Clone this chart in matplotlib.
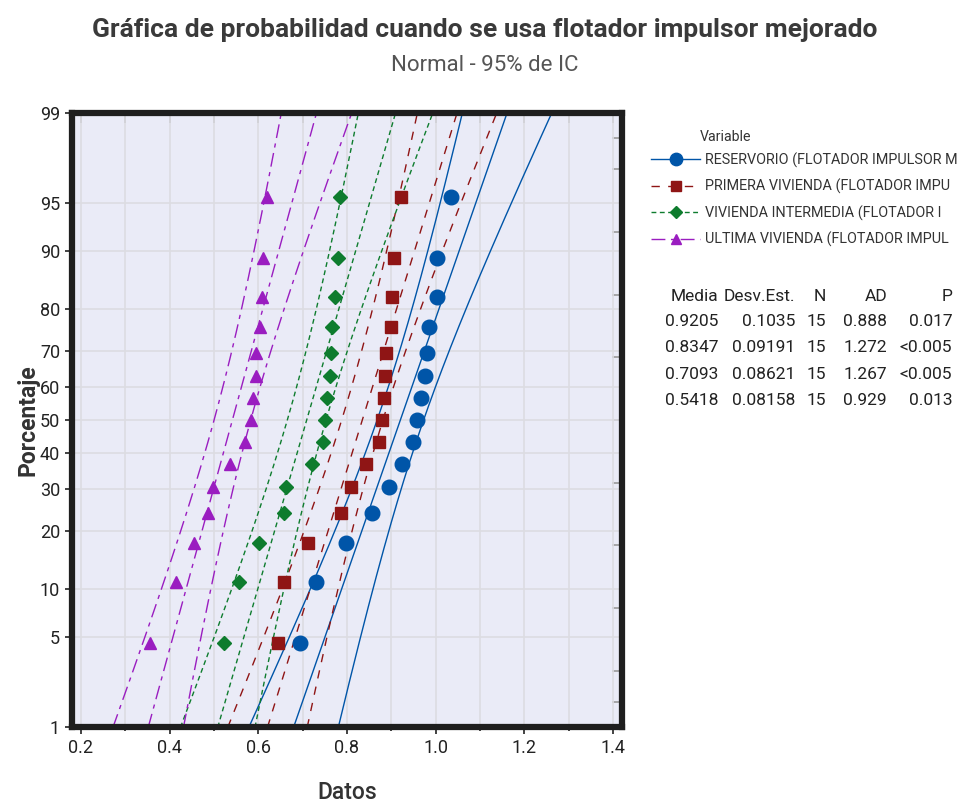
import numpy as np
import matplotlib
matplotlib.use("Agg")
import matplotlib.pyplot as plt
from statistics import NormalDist

plt.rcParams['font.family'] = ['Roboto', 'DejaVu Sans']

# datos (15 valores ordenados por variable)
reservorio = [0.694, 0.731, 0.799, 0.857, 0.895, 0.925, 0.949, 0.959, 0.966,
              0.975, 0.981, 0.985, 1.004, 1.004, 1.034]
primera = [0.645, 0.658, 0.713, 0.786, 0.809, 0.844, 0.872, 0.879, 0.883,
           0.885, 0.889, 0.899, 0.902, 0.906, 0.921]
intermedia = [0.523, 0.557, 0.602, 0.659, 0.662, 0.722, 0.746, 0.750, 0.754,
              0.762, 0.764, 0.767, 0.773, 0.780, 0.784]
ultima = [0.355, 0.415, 0.456, 0.486, 0.497, 0.536, 0.570, 0.584, 0.588,
          0.594, 0.596, 0.604, 0.608, 0.611, 0.620]

etiquetas = ["RESERVORIO (FLOTADOR IMPULSOR M", "PRIMERA VIVIENDA (FLOTADOR IMPU",
             "VIVIENDA INTERMEDIA (FLOTADOR I", "ULTIMA VIVIENDA (FLOTADOR IMPUL"]
media = ["0.9205", "0.8347", "0.7093", "0.5418"]
desv = ["0.1035", "0.09191", "0.08621", "0.08158"]
n_obs = ["15", "15", "15", "15"]
ad = ["0.888", "1.272", "1.267", "0.929"]
p_val = ["0.017", "<0.005", "<0.005", "0.013"]

y_ticks = [1, 5, 10, 20, 30, 40, 50, 60, 70, 80, 90, 95, 99]

colores = ['#0055A8', '#8F1515', '#0E7C2E', '#9A1DC0']
marcadores = ['o', 's', 'D', '^']
tam = [10.5, 8.5, 7.5, 9]
estilos = ['-', (0, (6, 6)), (0, (3.5, 2.5)), (0, (10, 4, 3, 4))]

nd = NormalDist()
_ppf = np.vectorize(nd.inv_cdf, otypes=[float])
_cdf = np.vectorize(nd.cdf, otypes=[float])


def fwd(p):
    p = np.clip(np.asarray(p, dtype=float) / 100.0, 1e-9, 1 - 1e-9)
    return _ppf(p)


def inv(z):
    return _cdf(np.asarray(z, dtype=float)) * 100.0


fig = plt.figure(figsize=(9.59, 8.05), dpi=100)
ax = fig.add_axes([0.075, 0.0965, 0.5735, 0.7635])
ax.set_facecolor('#EAEBF7')
ax.set_yscale('function', functions=(fwd, inv))

series = [reservorio, primera, intermedia, ultima]
z = np.linspace(nd.inv_cdf(0.01), nd.inv_cdf(0.99), 200)
pct = _cdf(z) * 100
for i, datos in enumerate(series):
    x = np.sort(np.array(datos))
    n = len(x)
    rangos = (np.arange(1, n + 1) - 0.3) / (n + 0.4) * 100
    m = float(media[i])
    s = float(desv[i])
    ajuste = m + s * z
    se = s * np.sqrt(1.0 / n + z ** 2 / (2.0 * n))
    kw = dict(color=colores[i], lw=1.0, linestyle=estilos[i])
    ax.plot(ajuste, pct, **kw)
    ax.plot(ajuste - 1.96 * se, pct, **kw)
    ax.plot(ajuste + 1.96 * se, pct, **kw)
    ax.plot(x, rangos, linestyle='none', marker=marcadores[i], ms=tam[i],
            color=colores[i], zorder=5)

x_major = np.arange(0.2, 1.41, 0.2)
x_minor = np.arange(0.3, 1.41, 0.2)
ax.set_xlim(0.18, 1.42)
ax.set_ylim(1, 99)
ax.set_xticks(x_major)
ax.set_xticks(x_minor, minor=True)
ax.set_xticklabels([f"{v:.1f}" for v in x_major])
ax.set_yticks(y_ticks)
ax.set_yticklabels([str(v) for v in y_ticks])
ax.yaxis.set_minor_locator(matplotlib.ticker.NullLocator())
ax.grid(True, which='both', color='#DCDCE2', lw=1.2)
ax.set_axisbelow(True)
ax.tick_params(axis='both', which='both', labelsize=13, colors='#222222',
               length=5, width=1.2, direction='out')
ax.tick_params(axis='x', which='minor', length=3)
for sp in ax.spines.values():
    sp.set_linewidth(4.5)
    sp.set_color('#1E1E1E')

# marcas interiores arriba y a la derecha
top = ax.secondary_xaxis('top')
top.set_xticks(x_major)
top.set_xticks(x_minor, minor=True)
top.tick_params(axis='x', which='both', direction='in', length=7, width=1.2,
                colors='#999999', labeltop=False)
top.spines['top'].set_visible(False)
der = ax.secondary_yaxis('right')
der.set_yticks(y_ticks)
der.yaxis.set_minor_locator(matplotlib.ticker.NullLocator())
der.tick_params(axis='y', which='both', direction='in', length=7, width=1.2,
                colors='#999999', labelright=False)
der.spines['right'].set_visible(False)

xl = ax.set_xlabel("Datos", fontsize=16.5, color='#333333', fontweight='medium')
ax.xaxis.set_label_coords(0.5, -0.106)
xl.set_va('center')
yl = ax.set_ylabel("Porcentaje", fontsize=16.5, color='#333333', fontweight='bold')
ax.yaxis.set_label_coords(-0.08, 0.5)
yl.set_va('center')

fig.text(0.505, 0.963, "Gráfica de probabilidad cuando se usa flotador impulsor mejorado",
         ha='center', va='center', fontsize=19, color='#3A3A3A', fontweight='bold')
fig.text(0.505, 0.919, "Normal - 95% de IC", ha='center', va='center',
         fontsize=16, color='#555555')

# leyenda
fig.text(0.730, 0.830, "Variable", ha='left', va='center', fontsize=10.2,
         color='#333333')
handles = []
for i in range(4):
    h, = ax.plot([], [], color=colores[i], lw=1.0, linestyle=estilos[i],
                 marker=marcadores[i], ms=tam[i] * 0.85)
    handles.append(h)
fig.legend(handles, etiquetas, loc='upper left', bbox_to_anchor=(0.673, 0.818),
           frameon=False, fontsize=10.4, handlelength=3.4, labelspacing=0.78,
           handletextpad=0.3, borderaxespad=0, labelcolor='#333333')

# tabla de estadisticos
cols = [(0.749, "Media", media), (0.829, "Desv.Est.", desv), (0.861, "N", n_obs),
        (0.925, "AD", ad), (0.993, "P", p_val)]
filas_y = [0.632, 0.601, 0.568, 0.535, 0.502]
for xc, cab, vals in cols:
    fig.text(xc, filas_y[0], cab, ha='right', va='center', fontsize=12.5, color='#222222')
    for j, v in enumerate(vals):
        fig.text(xc, filas_y[j + 1], v, ha='right', va='center', fontsize=12.5,
                 color='#222222')

fig.savefig("out.png", dpi=100, facecolor='white')
